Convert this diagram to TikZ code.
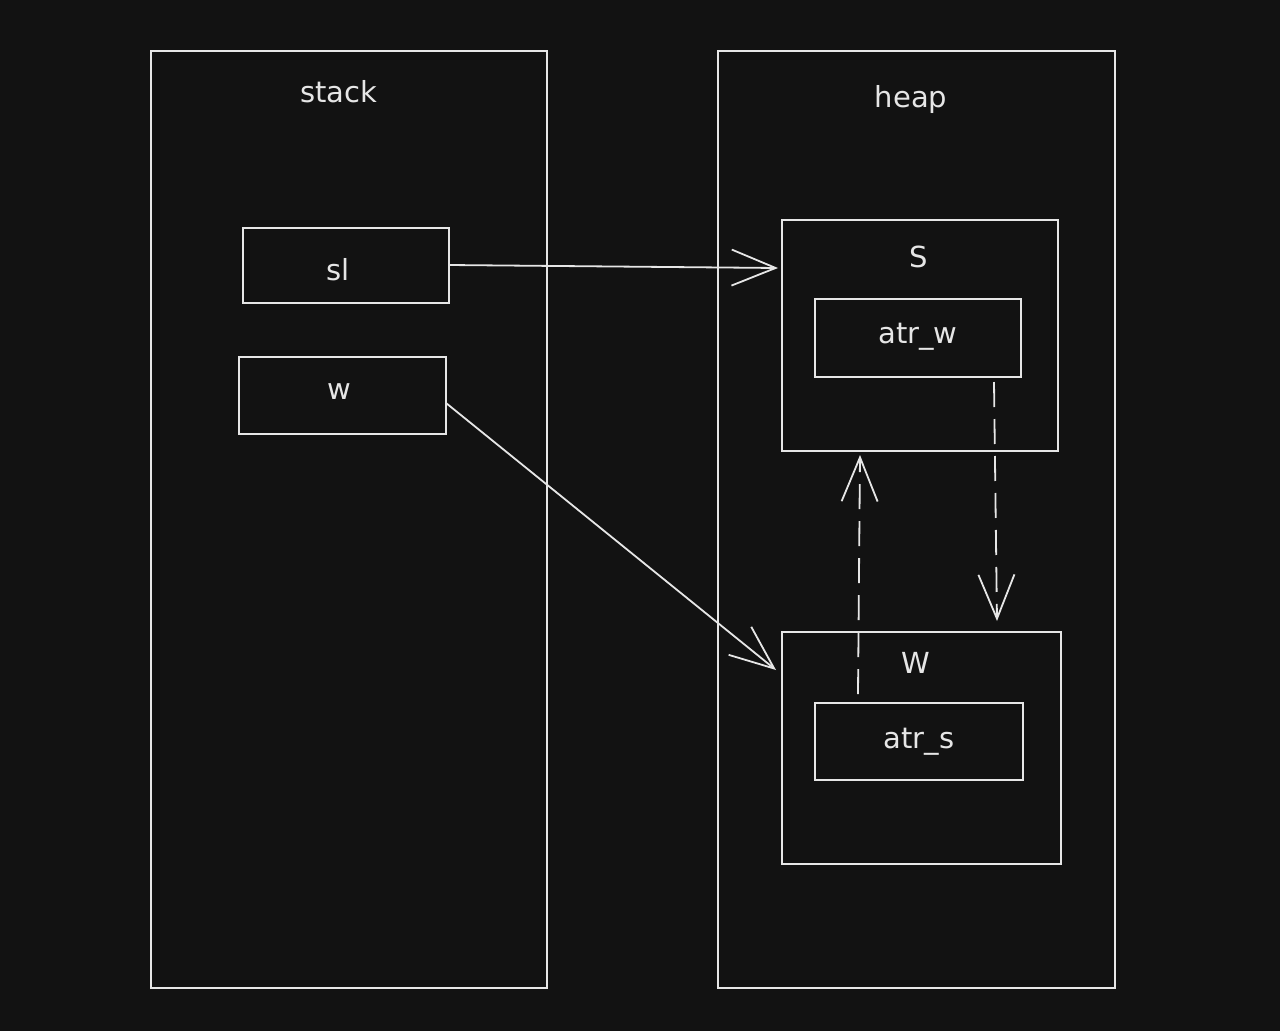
\documentclass[tikz,border=0pt]{standalone}
\usepackage{fontspec}
\setmainfont{DejaVu Sans}
\usetikzlibrary{arrows.meta}
\definecolor{bg}{HTML}{121212}
\definecolor{ink}{HTML}{E6E6E6}
\begin{document}
\begin{tikzpicture}[x=1pt,y=-1pt,
  box/.style={draw=ink,line width=1.8pt},
  lbl/.style={text=ink,font=\fontsize{29}{33}\selectfont,inner sep=0pt},
  conn/.style={draw=ink,line width=1.8pt,-{Straight Barb[length=44pt,width=36pt,line width=1.8pt]}},
  dconn/.style={conn,dash pattern=on 25pt off 12pt}]
\fill[bg] (0,0) rectangle (1280,1031);
\useasboundingbox (0,0) rectangle (1280,1031);
% containers
\draw[box] (151,51) rectangle (547,988);
\draw[box] (718,51) rectangle (1115,988);
\node[lbl] (stackl) at (339,92) {stack};
\node[lbl] (heapl) at (911,99) {heap};
% stack boxes
\draw[box] (243,228) rectangle (449,303);
\node[lbl] (sl) at (338,270) {sl};
\coordinate (slR) at (449,265);
\draw[box] (239,357) rectangle (446,434);
\node[lbl] (w) at (339,392) {w};
\coordinate (wR) at (446,403);
% heap objects
\draw[box] (782,220) rectangle (1058,451);
\node[lbl] (S) at (919,257) {S};
\draw[box] (815,299) rectangle (1021,377);
\node[lbl] (atrw) at (918,337) {atr\_w};
\draw[box] (782,632) rectangle (1061,864);
\node[lbl] (W) at (916,663) {W};
\draw[box] (815,703) rectangle (1023,780);
\node[lbl] (atrs) at (919,742) {atr\_s};
% connectors
\coordinate (Sin) at (778,268);
\coordinate (Win) at (776,670);
\coordinate (awOut) at (994,382);
\coordinate (Wtop) at (997,621);
\coordinate (asOut) at (858,694);
\coordinate (Sbot) at (860,455);
\draw[conn] (slR) -- (Sin);
\draw[conn] (wR) -- (Win);
\draw[dconn] (awOut) -- (Wtop);
\draw[dconn] (asOut) -- (Sbot);
\end{tikzpicture}
\end{document}
